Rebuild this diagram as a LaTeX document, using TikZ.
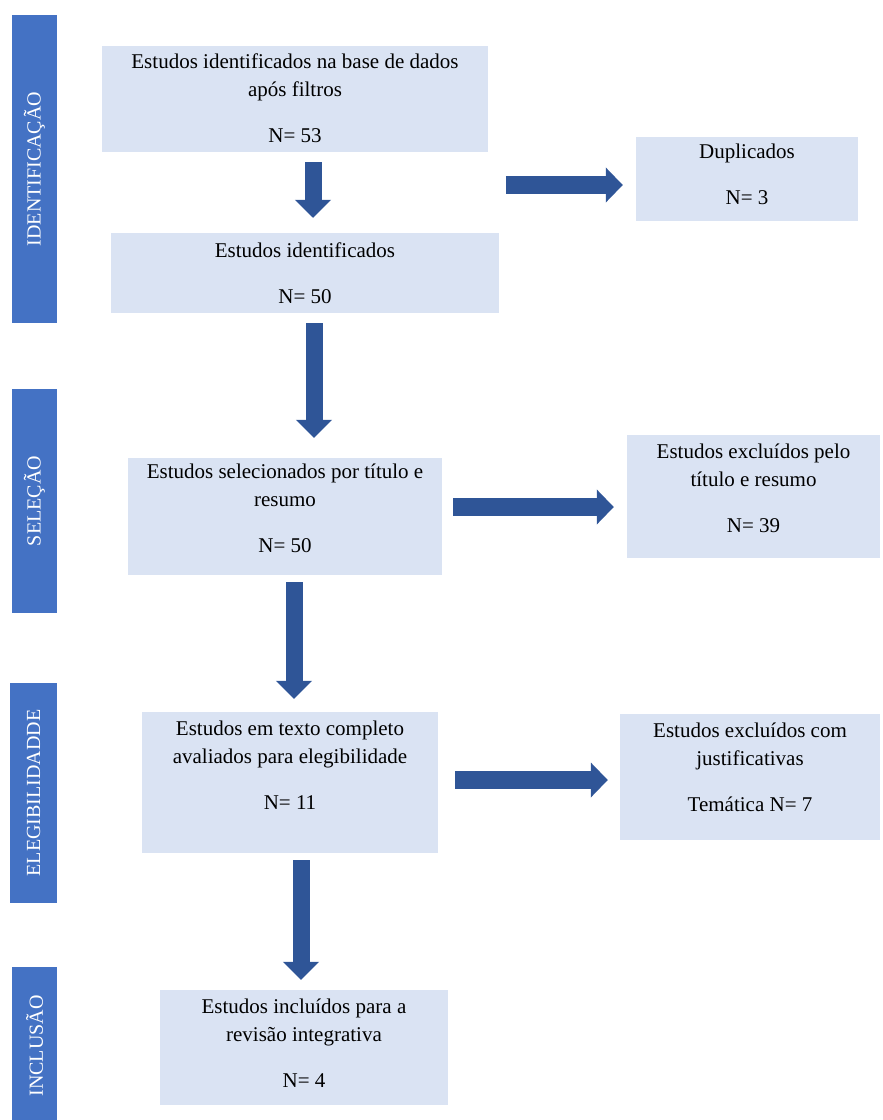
\documentclass[tikz,border=0pt]{standalone}
\usepackage{fontspec}
\setmainfont{Liberation Serif}
\usetikzlibrary{
  	positioning,
  	arrows.meta,
  	calc
  }
\definecolor{barblue}{RGB}{68,114,196}
\definecolor{arrowblue}{RGB}{47,85,151}
\definecolor{boxfill}{RGB}{218,227,243}
\tikzstyle{stagebar}=[fill=barblue,rotate=90,text=white,inner sep=0pt,font=\fontsize{20}{24}\selectfont]
\tikzstyle{stepbox}=[fill=boxfill,inner sep=0pt]
\tikzstyle{boxtext}=[align=center,inner sep=0pt,font=\fontsize{21}{28}\selectfont]
\tikzstyle{downarrow}=[draw=arrowblue,line width=17pt,-{Triangle[length=18pt,width=35pt]}]
\tikzstyle{rightarrow}=[draw=arrowblue,line width=18pt,-{Triangle[length=17pt,width=34pt]}]

\begin{document}
\begin{tikzpicture}[x=1pt,y=-1pt]
  \useasboundingbox (0,0) rectangle (883,1120);
  % stage bars
  \node[stagebar,minimum width=308pt,minimum height=45pt] (s1) at (34.5,169) {IDENTIFICAÇÃO};
  \node[stagebar,minimum width=224pt,minimum height=45pt] (s2) at (34.5,501) {SELEÇÃO};
  \node[stagebar,minimum width=220pt,minimum height=47pt] (s3) at (33.5,793) {ELEGIBILIDADDE};
  \node[stagebar,minimum width=158pt,minimum height=45pt] (s4) at (34.5,1046) {INCLUSÃO};
%
  \node[stepbox,minimum width=386pt,minimum height=106pt] (b1) at (295,99) {};
  \node[boxtext,anchor=north] (t1) at ([yshift=-8pt]b1.north)
     {Estudos identificados na base de dados\\ após filtros\\[18pt] N= 53};
  \node[stepbox,minimum width=388pt,minimum height=80pt] (b2) at (305,273) {};
  \node[boxtext,anchor=north] (t2) at ([yshift=-10pt]b2.north)
     {Estudos identificados\\[18pt] N= 50};
  \node[stepbox,minimum width=222pt,minimum height=84pt] (dup) at (747,179) {};
  \node[boxtext,anchor=north] (td) at ([yshift=-7pt]dup.north)
     {Duplicados\\[18pt] N= 3};
%
  \node[stepbox,minimum width=314pt,minimum height=117pt] (b3) at (285,516.5) {};
  \node[boxtext,anchor=north] (t3) at ([yshift=-6pt]b3.north)
     {Estudos selecionados por título e\\ resumo\\[18pt] N= 50};
  \node[stepbox,minimum width=253pt,minimum height=123pt] (ex1) at (753.5,496.5) {};
  \node[boxtext,anchor=north] (te1) at ([yshift=-9pt]ex1.north)
     {Estudos excluídos pelo\\ título e resumo\\[18pt] N= 39};
%
  \node[stepbox,minimum width=296pt,minimum height=141pt] (b4) at (290,782.5) {};
  \node[boxtext,anchor=north] (t4) at ([yshift=-9pt]b4.north)
     {Estudos em texto completo\\ avaliados para elegibilidade\\[18pt] N= 11};
  \node[stepbox,minimum width=260pt,minimum height=126pt] (ex2) at (750,777) {};
  \node[boxtext,anchor=north] (te2) at ([yshift=-9pt]ex2.north)
     {Estudos excluídos com\\ justificativas\\[18pt] Temática N= 7};
%
  \node[stepbox,minimum width=288pt,minimum height=115pt] (b5) at (304,1047.5) {};
  \node[boxtext,anchor=north] (t5) at ([yshift=-9pt]b5.north)
     {Estudos incluídos para a\\ revisão integrativa\\[18pt] N= 4};
%
  \draw[downarrow] ($(b1.south)+(18,10)$) -- ($(b2.north)+(8,-15)$);
  \draw[downarrow] ($(b2.south)+(9,10)$) -- ($(b3.north)+(29,-20)$);
  \draw[downarrow] ($(b3.south)+(9,7)$) -- ($(b4.north)+(4,-13)$);
  \draw[downarrow] ($(b4.south)+(11,7)$) -- ($(b5.north)+(-3,-10)$);
  \draw[rightarrow] ($(dup.west)+(-130,6)$) -- ($(dup.west)+(-13,6)$);
  \draw[rightarrow] ($(b3.east)+(11,-9.5)$) -- ($(ex1.west)+(-13,10.5)$);
  \draw[rightarrow] ($(b4.east)+(17,-2.5)$) -- ($(ex2.west)+(-12,3)$);
\end{tikzpicture}
\end{document}
